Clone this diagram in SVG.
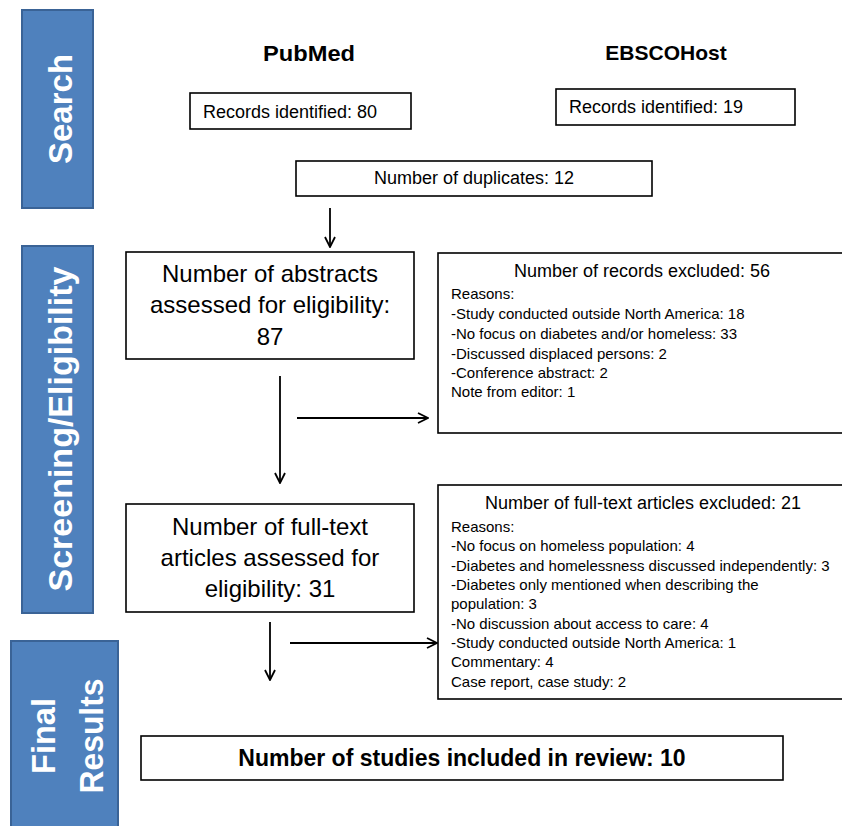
<svg xmlns="http://www.w3.org/2000/svg" width="842" height="826" viewBox="0 0 842 826">
<style>
.bar{fill:#4f81bd;stroke:#3a6396;stroke-width:2}
.lbl{font-family:"Liberation Sans",Arial,sans-serif;font-weight:bold;fill:#fff}
.box{fill:#fff;stroke:#000;stroke-width:1.6}
.t{font-family:"Liberation Sans",Arial,sans-serif;fill:#000}
.c{text-anchor:middle}
.b{font-weight:bold}
.r{font-size:15px}
.h{font-size:18px}
.m{font-size:24px}
.con{stroke:#000;stroke-width:1.8;fill:none}
</style>
<defs>
<marker id="ah" viewBox="0 0 12 12" refX="11" refY="6" markerWidth="12" markerHeight="12" markerUnits="userSpaceOnUse" orient="auto">
<path d="M1,1 L11,6 L1,11" fill="none" stroke="#000" stroke-width="1.8"/>
</marker>
</defs>
<rect width="842" height="826" fill="#fff"/>

<g id="bar-search">
<rect class="bar" x="22" y="10" width="71" height="198"/>
<text class="lbl c" font-size="33" transform="translate(72,109) rotate(-90)">Search</text>
</g>
<g id="bar-screening">
<rect class="bar" x="22" y="246" width="71" height="367"/>
<text class="lbl c" font-size="34" transform="translate(72,429) rotate(-90)">Screening/Eligibility</text>
</g>
<g id="bar-final">
<rect class="bar" x="11" y="641" width="107" height="190"/>
<text class="lbl c" font-size="34" transform="translate(55,736) rotate(-90)" textLength="76" lengthAdjust="spacingAndGlyphs">Final</text>
<text class="lbl c" font-size="34" transform="translate(103,736) rotate(-90)" textLength="115" lengthAdjust="spacingAndGlyphs">Results</text>
</g>

<g id="pubmed-title"><text class="t c b" x="309" y="61" font-size="22" textLength="92" lengthAdjust="spacingAndGlyphs">PubMed</text></g>
<g id="ebsco-title"><text class="t c b" x="666" y="60" font-size="21">EBSCOHost</text></g>

<g id="pubmed-records">
<rect class="box" x="190" y="93" width="221" height="36"/>
<text class="t h" x="203" y="118">Records identified: 80</text>
</g>
<g id="ebsco-records">
<rect class="box" x="556" y="89" width="239" height="36"/>
<text class="t h" x="569" y="113">Records identified: 19</text>
</g>
<g id="duplicates">
<rect class="box" x="296" y="161" width="356" height="35"/>
<text class="t c h" x="474" y="184">Number of duplicates: 12</text>
</g>

<g id="abstracts">
<rect class="box" x="126" y="252" width="288" height="107"/>
<text class="t c m" x="270" y="282">Number of abstracts</text>
<text class="t c m" x="270" y="313">assessed for eligibility:</text>
<text class="t c m" x="270" y="345">87</text>
</g>

<g id="records-excluded">
<rect class="box" x="438" y="253" width="410" height="180"/>
<text class="t c h" x="642" y="277">Number of records excluded: 56</text>
<text class="t r" x="451" y="299">Reasons:</text>
<text class="t r" x="451" y="319">-Study conducted outside North America: 18</text>
<text class="t r" x="451" y="339">-No focus on diabetes and/or homeless: 33</text>
<text class="t r" x="451" y="359">-Discussed displaced persons: 2</text>
<text class="t r" x="451" y="378">-Conference abstract: 2</text>
<text class="t r" x="451" y="397">Note from editor: 1</text>
</g>

<g id="fulltext">
<rect class="box" x="126" y="504" width="288" height="108"/>
<text class="t c m" x="270" y="535">Number of full-text</text>
<text class="t c m" x="270" y="566">articles assessed for</text>
<text class="t c m" x="270" y="597">eligibility: 31</text>
</g>

<g id="fulltext-excluded">
<rect class="box" x="438" y="485" width="410" height="214"/>
<text class="t c h" x="643" y="509">Number of full-text articles excluded: 21</text>
<text class="t r" x="451" y="532">Reasons:</text>
<text class="t r" x="451" y="551">-No focus on homeless population: 4</text>
<text class="t r" x="451" y="571">-Diabetes and homelessness discussed independently: 3</text>
<text class="t r" x="451" y="590">-Diabetes only mentioned when describing the</text>
<text class="t r" x="451" y="609">population: 3</text>
<text class="t r" x="451" y="629">-No discussion about access to care: 4</text>
<text class="t r" x="451" y="648">-Study conducted outside North America: 1</text>
<text class="t r" x="451" y="667">Commentary: 4</text>
<text class="t r" x="451" y="687">Case report, case study: 2</text>
</g>

<g id="final">
<rect class="box" x="141" y="736" width="642" height="44"/>
<text class="t c b" x="462" y="766" font-size="23">Number of studies included in review: 10</text>
</g>

<g id="connectors">
<line class="con" x1="330" y1="208" x2="330" y2="247" marker-end="url(#ah)"/>
<line class="con" x1="280" y1="376" x2="280" y2="483" marker-end="url(#ah)"/>
<line class="con" x1="297" y1="418" x2="428" y2="418" marker-end="url(#ah)"/>
<line class="con" x1="270" y1="622" x2="270" y2="680" marker-end="url(#ah)"/>
<line class="con" x1="290" y1="643" x2="437" y2="643" marker-end="url(#ah)"/>
</g>
</svg>
